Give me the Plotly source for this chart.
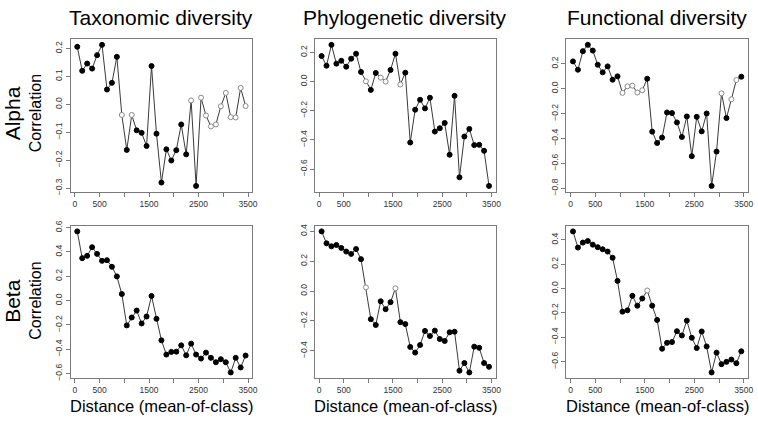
import plotly.graph_objects as go

# Distance classes (mean of class)
distance = [50, 150, 250, 350, 450, 550, 650, 750, 850, 950,
            1050, 1150, 1250, 1350, 1450, 1550, 1650, 1750, 1850, 1950,
            2050, 2150, 2250, 2350, 2450, 2550, 2650, 2750, 2850, 2950,
            3050, 3150, 3250, 3350, 3450]

# Correlation values
tax_alpha = [0.206, 0.120, 0.146, 0.128, 0.176, 0.213, 0.053, 0.077, 0.170, -0.038,
             -0.163, -0.038, -0.093, -0.102, -0.149, 0.137, -0.105, -0.280, -0.161, -0.201,
             -0.164, -0.072, -0.179, 0.014, -0.292, 0.024, -0.040, -0.079, -0.072, -0.007,
             0.041, -0.046, -0.047, 0.059, -0.006]
phy_alpha = [0.175, 0.109, 0.252, 0.123, 0.143, 0.102, 0.157, 0.191, 0.066, 0.002,
             -0.057, 0.059, 0.027, 0.000, 0.080, 0.191, -0.020, 0.061, -0.418, -0.193,
             -0.125, -0.184, -0.111, -0.343, -0.320, -0.284, -0.502, -0.098, -0.657, -0.377,
             -0.325, -0.436, -0.434, -0.475, -0.716]
fun_alpha = [0.219, 0.152, 0.301, 0.352, 0.306, 0.192, 0.131, 0.179, 0.072, 0.099,
             -0.034, 0.019, 0.024, -0.031, -0.013, 0.080, -0.345, -0.436, -0.393, -0.191,
             -0.196, -0.271, -0.388, -0.223, -0.542, -0.226, -0.343, -0.199, -0.781, -0.505,
             -0.037, -0.236, -0.085, 0.070, 0.096]
tax_beta = [0.569, 0.349, 0.368, 0.439, 0.384, 0.327, 0.332, 0.278, 0.199, 0.054,
            -0.204, -0.139, -0.082, -0.188, -0.131, 0.038, -0.150, -0.327, -0.444, -0.422,
            -0.420, -0.368, -0.450, -0.354, -0.444, -0.477, -0.428, -0.471, -0.507, -0.482,
            -0.507, -0.591, -0.471, -0.550, -0.452]
phy_beta = [0.400, 0.320, 0.300, 0.309, 0.289, 0.265, 0.249, 0.282, 0.214, 0.025,
            -0.188, -0.227, -0.068, -0.121, -0.074, 0.019, -0.208, -0.221, -0.374, -0.412,
            -0.361, -0.267, -0.301, -0.265, -0.321, -0.334, -0.276, -0.272, -0.533, -0.482,
            -0.545, -0.372, -0.380, -0.482, -0.507]
fun_beta = [0.470, 0.337, 0.378, 0.391, 0.361, 0.340, 0.323, 0.304, 0.253, 0.063,
            -0.190, -0.179, -0.060, -0.141, -0.082, -0.016, -0.141, -0.258, -0.495, -0.446,
            -0.440, -0.351, -0.386, -0.264, -0.405, -0.489, -0.353, -0.476, -0.690, -0.527,
            -0.622, -0.603, -0.584, -0.614, -0.516]

# Significance (1 = filled, 0 = open)
tax_alpha_sig = [1, 1, 1, 1, 1, 1, 1, 1, 1, 0, 1, 0, 1, 1, 1, 1, 1, 1, 1, 1,
                 1, 1, 1, 0, 1, 0, 0, 0, 0, 0, 0, 0, 0, 0, 0]
phy_alpha_sig = [1, 1, 1, 1, 1, 1, 1, 1, 1, 0, 1, 1, 0, 0, 1, 1, 0, 1, 1, 1,
                 1, 1, 1, 1, 1, 1, 1, 1, 1, 1, 1, 1, 1, 1, 1]
fun_alpha_sig = [1, 1, 1, 1, 1, 1, 1, 1, 1, 1, 0, 0, 0, 0, 0, 1, 1, 1, 1, 1,
                 1, 1, 1, 1, 1, 1, 1, 1, 1, 1, 0, 1, 0, 0, 1]
tax_beta_sig = [1] * 35
phy_beta_sig = [1, 1, 1, 1, 1, 1, 1, 1, 1, 0, 1, 1, 1, 1, 1, 0, 1, 1, 1, 1,
                1, 1, 1, 1, 1, 1, 1, 1, 1, 1, 1, 1, 1, 1, 1]
fun_beta_sig = [1, 1, 1, 1, 1, 1, 1, 1, 1, 1, 1, 1, 1, 1, 1, 0, 1, 1, 1, 1,
                1, 1, 1, 1, 1, 1, 1, 1, 1, 1, 1, 1, 1, 1, 1]

column_titles = ["Taxonomic diversity", "Phylogenetic diversity", "Functional diversity"]
row_titles = ["Alpha", "Beta"]
x_tickvals = [0, 500, 1000, 1500, 2000, 2500, 3000, 3500]
x_ticktext = ["0", "500", "", "1500", "", "2500", "", "3500"]

W, H = 758, 428
FONT = "Liberation Sans, Arial, sans-serif"

panels = [
    (tax_alpha, tax_alpha_sig, 0, 0, 0.1),
    (phy_alpha, phy_alpha_sig, 0, 1, 0.2),
    (fun_alpha, fun_alpha_sig, 0, 2, 0.2),
    (tax_beta, tax_beta_sig, 1, 0, 0.2),
    (phy_beta, phy_beta_sig, 1, 1, 0.2),
    (fun_beta, fun_beta_sig, 1, 2, 0.2),
]

col_px = [(71, 254), (317, 499), (570, 753)]
row_px = [(34, 190), (225, 381)]

fig = go.Figure()
layout = {}
frame = "#7a7a7a"
for k, (vals, sig, r, c, dt) in enumerate(panels):
    idx = "" if k == 0 else str(k + 1)
    xa, ya = "x" + idx, "y" + idx
    colors = ["black" if s else "white" for s in sig]
    lcolors = ["black" if s else "#8a8a8a" for s in sig]
    fig.add_trace(go.Scatter(
        x=distance, y=vals, mode="lines+markers", xaxis=xa, yaxis=ya,
        line=dict(color="#3a3a3a", width=1),
        marker=dict(size=5, color=colors, line=dict(color=lcolors, width=1)),
        showlegend=False, hoverinfo="x+y"))
    x0, x1 = col_px[c]
    y0, y1 = row_px[r]
    lo, hi = min(vals), max(vals)
    pad = 0.04 * (hi - lo)
    layout["xaxis" + idx] = dict(
        domain=[x0 / W, x1 / W], anchor=ya, range=[-86, 3586],
        tickvals=x_tickvals, ticktext=x_ticktext, ticks="outside", ticklen=4,
        tickcolor=frame, showline=True, linecolor=frame, linewidth=1, mirror=True,
        showgrid=False, zeroline=False,
        tickfont=dict(size=8.5, color="#333", family=FONT))
    layout["yaxis" + idx] = dict(
        domain=[1 - y1 / H, 1 - y0 / H], anchor=xa, range=[lo - pad, hi + pad],
        dtick=dt, tick0=0, tickformat=".1f", tickangle=-90, ticks="outside", ticklen=4,
        tickcolor=frame, showline=True, linecolor=frame, linewidth=1, mirror=True,
        showgrid=False, zeroline=False,
        tickfont=dict(size=8.5, color="#333", family=FONT))

annotations = []
title_x = [(71 + 254) / 2, (317 + 499) / 2, (570 + 753) / 2]
for c, t in enumerate(column_titles):
    annotations.append(dict(text=t, x=title_x[c] / W, y=1 - 12 / H, xref="paper", yref="paper",
                            showarrow=False, font=dict(size=21, color="black", family=FONT),
                            xanchor="center", yanchor="middle"))
    annotations.append(dict(text="Distance (mean-of-class)", x=title_x[c] / W, y=1 - 410 / H,
                            xref="paper", yref="paper", showarrow=False,
                            font=dict(size=16.5, color="black", family=FONT),
                            xanchor="center", yanchor="middle"))
row_cy = [110, 302]
for r, t in enumerate(row_titles):
    annotations.append(dict(text=t, x=13 / W, y=1 - row_cy[r] / H, xref="paper", yref="paper",
                            showarrow=False, textangle=-90,
                            font=dict(size=21, color="black", family=FONT),
                            xanchor="center", yanchor="middle"))
    annotations.append(dict(text="Correlation", x=36 / W, y=1 - row_cy[r] / H, xref="paper",
                            yref="paper", showarrow=False, textangle=-90,
                            font=dict(size=16, color="black", family=FONT),
                            xanchor="center", yanchor="middle"))

fig.update_layout(width=W, height=H, margin=dict(l=0, r=0, t=0, b=0),
                  paper_bgcolor="white", plot_bgcolor="white",
                  annotations=annotations, **layout)
fig.write_html("out.html", config={"displayModeBar": False},
               post_script="document.body.style.margin='0';")
